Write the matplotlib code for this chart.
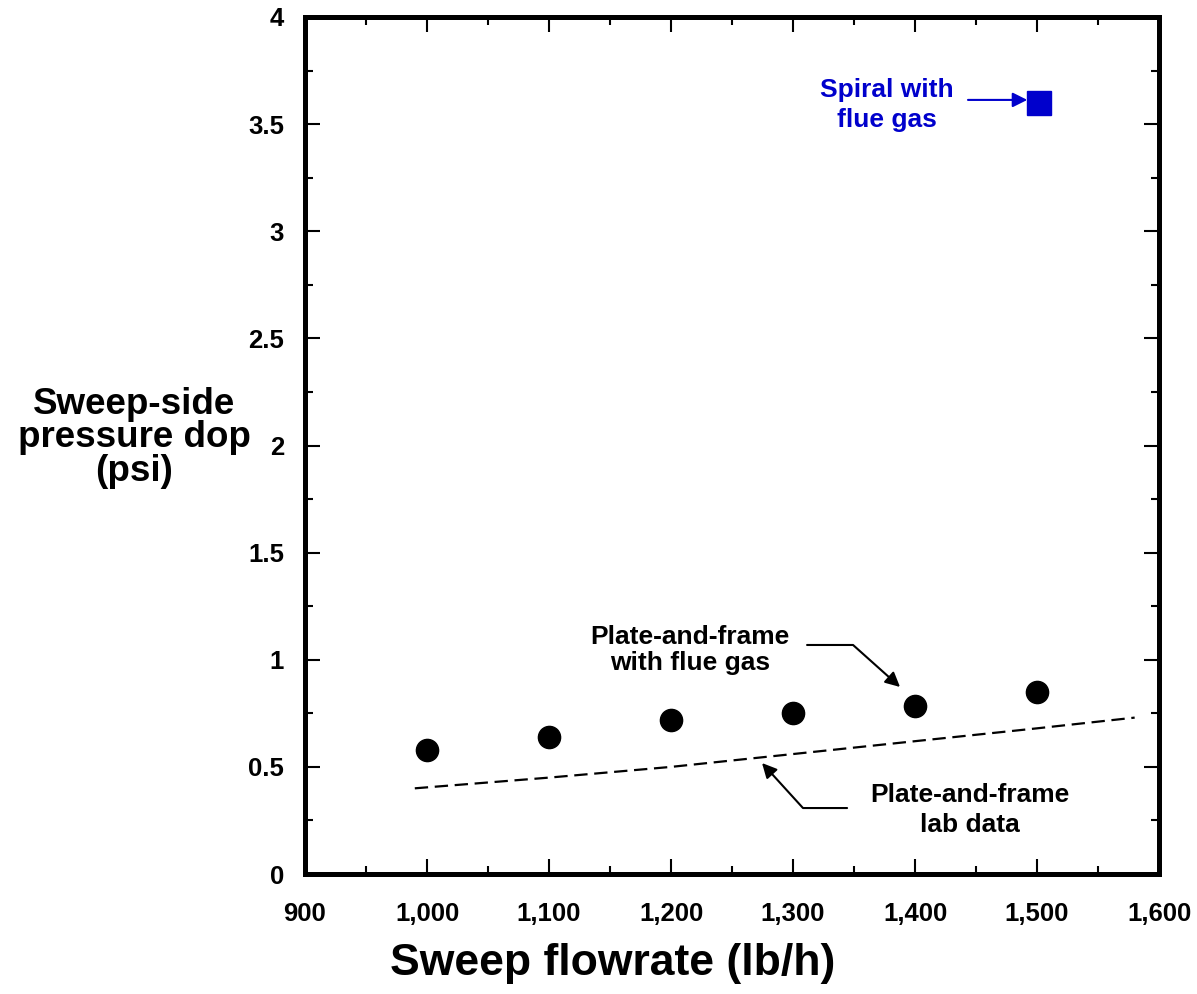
import matplotlib
matplotlib.use("Agg")
import matplotlib.pyplot as plt
from matplotlib.ticker import MultipleLocator, FuncFormatter

plt.rcParams['font.family'] = ['Liberation Sans', 'DejaVu Sans']
plt.rcParams['font.weight'] = 'bold'

# plate-and-frame with flue gas (points)
flow_pf = [1000, 1100, 1200, 1300, 1400, 1500]
dp_pf = [0.58, 0.64, 0.72, 0.75, 0.785, 0.85]

# plate-and-frame lab data (dashed)
flow_lab = [990, 1100, 1200, 1300, 1400, 1500, 1580]
dp_lab = [0.40, 0.45, 0.50, 0.56, 0.62, 0.68, 0.73]

# spiral with flue gas
flow_sp = [1502]
dp_sp = [3.60]

blue = '#0000cc'

fig = plt.figure(figsize=(11.97, 9.94), dpi=100)
ax = fig.add_axes([0.2548, 0.1207, 0.7135, 0.8622])

ax.plot(flow_lab, dp_lab, color='black', lw=1.6, linestyle=(0, (6, 3)))
ax.plot(flow_pf, dp_pf, 'o', color='black', markersize=16, linestyle='none')
ax.plot(flow_sp, dp_sp, 's', color=blue, markersize=17, linestyle='none')

ax.set_xlim(900, 1600)
ax.set_ylim(0, 4)
ax.xaxis.set_major_locator(MultipleLocator(100))
ax.xaxis.set_minor_locator(MultipleLocator(50))
ax.yaxis.set_major_locator(MultipleLocator(0.5))
ax.yaxis.set_minor_locator(MultipleLocator(0.25))
ax.xaxis.set_major_formatter(FuncFormatter(lambda v, p: f"{int(v):,}"))
ax.yaxis.set_major_formatter(FuncFormatter(lambda v, p: f"{v:g}"))

ax.tick_params(which='both', direction='in', top=True, right=True, width=1.5, labelsize=18.5)
ax.tick_params(which='major', length=11)
ax.tick_params(which='minor', length=6)
ax.tick_params(axis='x', pad=20)
ax.tick_params(axis='y', pad=15)
for s in ax.spines.values():
    s.set_linewidth(3.6)

ax.set_xlabel("Sweep flowrate (lb/h)", fontsize=32, fontweight='bold', va='center')
ax.xaxis.set_label_coords(0.36, -0.104)
ax.set_ylabel("Sweep-side\npressure dop\n(psi)", fontsize=26.5, fontweight='bold',
              rotation=0, ha='center', va='center', linespacing=0.95)
ax.yaxis.set_label_coords(-0.200, 0.509)

ax.text(1215.6, 1.045, "Plate-and-frame\nwith flue gas", fontsize=19, fontweight='bold',
        ha='center', va='center', linespacing=1.1)
ax.annotate("", xy=(1387.7, 0.873), xytext=(1311.5, 1.069),
            arrowprops=dict(arrowstyle='-|>', color='black', lw=1.5, mutation_scale=22,
                            shrinkA=0, shrinkB=0,
                            connectionstyle="angle,angleA=0,angleB=-41.8,rad=0"))
ax.annotate("", xy=(1274.6, 0.518), xytext=(1344.3, 0.308),
            arrowprops=dict(arrowstyle='-|>', color='black', lw=1.5, mutation_scale=22,
                            shrinkA=0, shrinkB=0,
                            connectionstyle="angle,angleA=180,angleB=132.3,rad=0"))
ax.text(1445, 0.30, "Plate-and-frame\nlab data", fontsize=19, fontweight='bold',
        ha='center', va='center', linespacing=1.3)

ax.annotate("", xy=(1492, 3.613), xytext=(1443.4, 3.613),
            arrowprops=dict(arrowstyle='-|>', color=blue, lw=1.5, mutation_scale=22,
                            shrinkA=0, shrinkB=0))
ax.text(1377, 3.59, "Spiral with\nflue gas", fontsize=19, fontweight='bold',
        color=blue, ha='center', va='center', linespacing=1.35)

fig.savefig("out.png", dpi=100)
